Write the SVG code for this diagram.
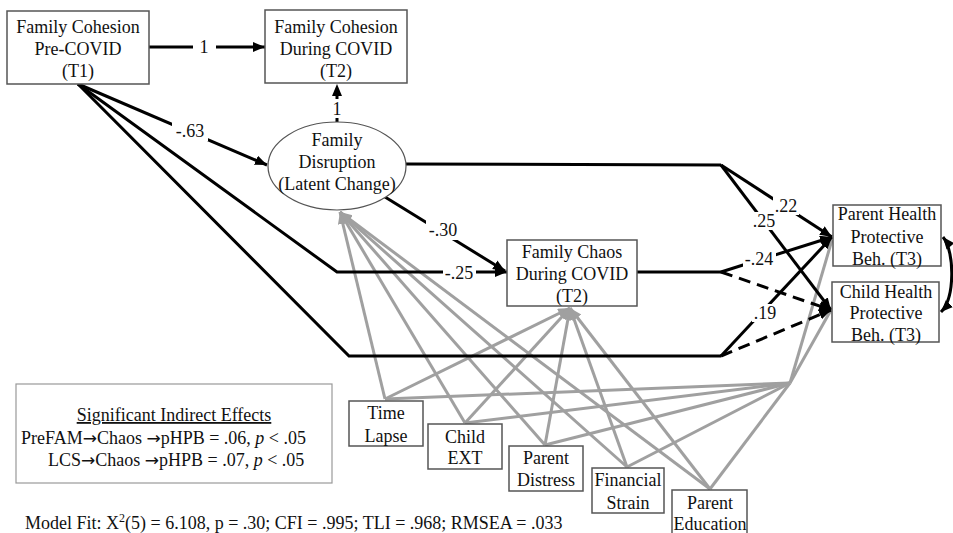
<svg xmlns="http://www.w3.org/2000/svg" width="953" height="533" viewBox="0 0 953 533">
<defs>
<style>
text{font-family:"Liberation Serif","Times New Roman",serif;font-size:18px;fill:#111;}
.c{text-anchor:middle;}
.arr{font-family:"DejaVu Sans",sans-serif;font-size:17px;}
.box{fill:#fff;stroke:#555;stroke-width:1.5;}
.blk{fill:none;stroke:#000;stroke-width:3;}
.dash{fill:none;stroke:#000;stroke-width:3;stroke-dasharray:12 7;}
.gry{fill:none;stroke:#a0a0a0;stroke-width:3;}
.bg{fill:#fff;stroke:none;}
</style>
<marker id="ab" markerUnits="userSpaceOnUse" markerWidth="13" markerHeight="11" refX="12" refY="5" orient="auto">
<path d="M0,0 L12,5 L0,10 z" fill="#000"/>
</marker>
<marker id="abs" markerUnits="userSpaceOnUse" markerWidth="13" markerHeight="11" refX="0" refY="5" orient="auto">
<path d="M12,0 L0,5 L12,10 z" fill="#000"/>
</marker>
<marker id="ag" markerUnits="userSpaceOnUse" markerWidth="13" markerHeight="11" refX="12" refY="5" orient="auto">
<path d="M0,0 L12,5 L0,10 z" fill="#a0a0a0"/>
</marker>
</defs>
<rect width="953" height="533" fill="#fff"/>

<g id="connectors">
<g class="gry-lines">
<path class="gry" d="M385,399 L340,212" marker-end="url(#ag)"/>
<path class="gry" d="M465,423 L340,212" marker-end="url(#ag)"/>
<path class="gry" d="M545,445 L340,212" marker-end="url(#ag)"/>
<path class="gry" d="M627,467 L340,212" marker-end="url(#ag)"/>
<path class="gry" d="M710,489 L340,212" marker-end="url(#ag)"/>
<path class="gry" d="M385,399 L570,308" marker-end="url(#ag)"/>
<path class="gry" d="M465,423 L570,308" marker-end="url(#ag)"/>
<path class="gry" d="M545,445 L570,308" marker-end="url(#ag)"/>
<path class="gry" d="M627,467 L570,308" marker-end="url(#ag)"/>
<path class="gry" d="M710,489 L570,308" marker-end="url(#ag)"/>
<path class="gry" d="M385,399 L790,383"/>
<path class="gry" d="M465,423 L790,383"/>
<path class="gry" d="M545,445 L790,383"/>
<path class="gry" d="M627,467 L790,383"/>
<path class="gry" d="M710,489 L790,383"/>
<path class="gry" d="M790,383 L832,240"/>
<path class="gry" d="M790,383 L831,310"/>
</g>
<path class="blk" d="M149,47 L265,47" marker-end="url(#ab)"/>
<path class="dash" d="M337,122 L337,84" marker-end="url(#ab)"/>
<path class="blk" d="M78,84 L267,165" marker-end="url(#ab)"/>
<path class="blk" d="M78,84 L337,272 L507,272" marker-end="url(#ab)"/>
<path class="blk" d="M78,84 L349,356 L721,356"/>
<path class="blk" d="M385,197 L505,271" marker-end="url(#ab)"/>
<path class="blk" d="M406,164 L721,165"/>
<path class="blk" d="M721,165 L832,237" marker-end="url(#ab)"/>
<path class="blk" d="M721,165 L831,310" marker-end="url(#ab)"/>
<path class="blk" d="M637,272 L721,272"/>
<path class="blk" d="M721,272 L832,237" marker-end="url(#ab)"/>
<path class="dash" d="M721,272 L831,310" marker-end="url(#ab)"/>
<path class="blk" d="M721,356 L832,237" marker-end="url(#ab)"/>
<path class="dash" d="M721,356 L831,310" marker-end="url(#ab)"/>
<path fill="none" stroke="#000" stroke-width="3" d="M943,237 C955,252 955,298 941,312" marker-start="url(#abs)" marker-end="url(#ab)"/>
<rect class="bg" x="193" y="36" width="23" height="22"/>
<text class="c" x="204" y="53">1</text>
<rect class="bg" x="330" y="99" width="14" height="19"/>
<text class="c" x="337" y="115">1</text>
<rect class="bg" x="172" y="121" width="36" height="20"/>
<text class="c" x="190" y="137">-.63</text>
<rect class="bg" x="426" y="220" width="34" height="20"/>
<text class="c" x="443" y="236">-.30</text>
<rect class="bg" x="443" y="263" width="33" height="20"/>
<text class="c" x="459" y="279">-.25</text>
<rect class="bg" x="773" y="197" width="26" height="18"/>
<text class="c" x="786" y="212">.22</text>
<rect class="bg" x="751" y="212" width="26" height="18"/>
<text class="c" x="764" y="227">.25</text>
<rect class="bg" x="743" y="250" width="33" height="18"/>
<text class="c" x="759" y="265">-.24</text>
<rect class="bg" x="752" y="304" width="26" height="18"/>
<text class="c" x="765" y="319">.19</text>
</g>

<g id="pre-covid">
<rect class="box" x="7" y="11" width="142" height="73"/>
<text class="c" x="78" y="33">Family Cohesion</text>
<text class="c" x="78" y="55">Pre-COVID</text>
<text class="c" x="78" y="77">(T1)</text>
</g>
<g id="during-covid">
<rect class="box" x="265" y="10" width="142" height="73"/>
<text class="c" x="336" y="33">Family Cohesion</text>
<text class="c" x="336" y="55">During COVID</text>
<text class="c" x="336" y="77">(T2)</text>
</g>
<g id="disruption">
<ellipse cx="337" cy="166" rx="69" ry="44" fill="#fff" stroke="#555" stroke-width="1.2"/>
<text class="c" x="337" y="146">Family</text>
<text class="c" x="337" y="168">Disruption</text>
<text class="c" x="337" y="190">(Latent Change)</text>
</g>
<g id="chaos">
<rect class="box" x="507" y="240" width="130" height="66"/>
<text class="c" x="572" y="258">Family Chaos</text>
<text class="c" x="572" y="280">During COVID</text>
<text class="c" x="572" y="302">(T2)</text>
</g>
<g id="parent-hpb">
<rect class="box" x="833" y="205" width="108" height="61"/>
<text class="c" x="887" y="220">Parent Health</text>
<text class="c" x="887" y="243">Protective</text>
<text class="c" x="887" y="265">Beh. (T3)</text>
</g>
<g id="child-hpb">
<rect class="box" x="832" y="282" width="107" height="60"/>
<text class="c" x="886" y="298">Child Health</text>
<text class="c" x="886" y="319">Protective</text>
<text class="c" x="886" y="341">Beh. (T3)</text>
</g>
<g id="time-lapse">
<rect class="box" x="349" y="401" width="74" height="45"/>
<text class="c" x="386" y="419">Time</text>
<text class="c" x="386" y="442">Lapse</text>
</g>
<g id="child-ext">
<rect class="box" x="428" y="424" width="74" height="45"/>
<text class="c" x="465" y="443">Child</text>
<text class="c" x="465" y="464">EXT</text>
</g>
<g id="parent-distress">
<rect class="box" x="509" y="446" width="74" height="45"/>
<text class="c" x="546" y="464">Parent</text>
<text class="c" x="546" y="486">Distress</text>
</g>
<g id="financial-strain">
<rect class="box" x="592" y="468" width="72" height="45"/>
<text class="c" x="628" y="486">Financial</text>
<text class="c" x="628" y="509">Strain</text>
</g>
<g id="parent-education">
<rect class="box" x="672" y="490" width="75" height="50"/>
<text class="c" x="710" y="509">Parent</text>
<text class="c" x="710" y="530">Education</text>
</g>
<g id="indirect-effects">
<rect x="16" y="384" width="316" height="99" fill="#fff" stroke="#999" stroke-width="1.2"/>
<text class="c" x="174" y="421" text-decoration="underline">Significant  Indirect Effects</text>
<text x="21" y="444">PreFAM<tspan class="arr">→</tspan>Chaos <tspan class="arr">→</tspan>pHPB = .06, <tspan font-style="italic">p</tspan> &lt; .05</text>
<text x="48" y="466">LCS<tspan class="arr">→</tspan>Chaos <tspan class="arr">→</tspan>pHPB = .07, <tspan font-style="italic">p</tspan> &lt; .05</text>
</g>
<g id="model-fit">
<text x="25" y="529">Model Fit: X<tspan font-size="12" dy="-7">2</tspan><tspan dy="7">(5) = 6.108, p = .30; CFI = .995; TLI = .968; RMSEA = .033</tspan></text>
</g>
</svg>
